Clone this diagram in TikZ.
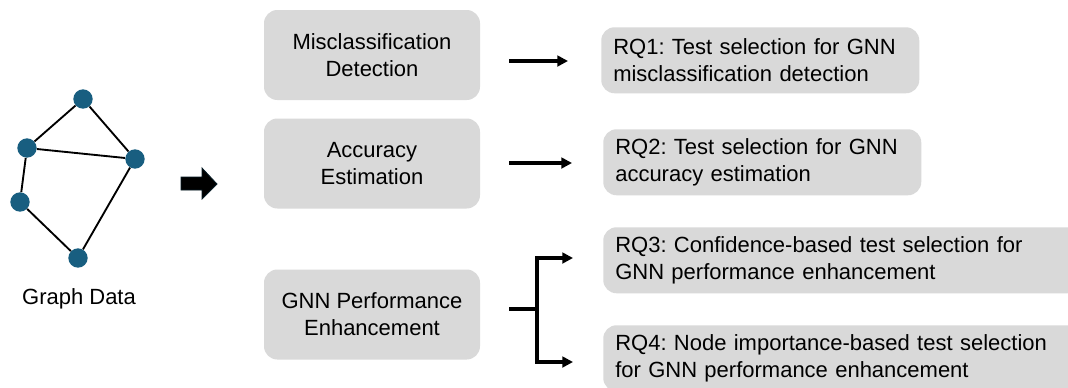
\documentclass[tikz,border=0pt]{standalone}
\usepackage{fontspec}
\setmainfont{Liberation Sans}
\frenchspacing
\usetikzlibrary{arrows.meta}
\definecolor{boxgray}{HTML}{D9D9D9}
\definecolor{gnode}{RGB}{24,94,128}
\begin{document}
\begin{tikzpicture}[x=0.75pt,y=-0.75pt,
  every node/.style={font=\fontsize{16.5}{20.25}\selectfont},
  leftbox/.style={rounded corners=10pt, fill=boxgray, minimum width=162pt, minimum height=67.5pt, align=center, inner sep=0pt},
  rqbox/.style={rounded corners=10pt, fill=boxgray, anchor=north west, minimum height=49.5pt, text width=#1, inner xsep=9pt, inner ysep=0pt, align=left},
  gn/.style={circle, fill=gnode, minimum size=14.5pt, inner sep=0pt},
  gedge/.style={line width=1.4pt, black},
  arr/.style={line width=2.4pt, -{Triangle[length=8pt,width=8pt]}},
  barr/.style={line width=2.6pt, {Triangle[length=8pt,width=8pt]}-{Triangle[length=8pt,width=8pt]}},
]
\clip (0,0) rectangle (1068,387);
\fill[white] (0,0) rectangle (1068,387);
% graph
\node[gn] (v1) at (83,99) {};
\node[gn] (v2) at (27,148) {};
\node[gn] (v3) at (135,159) {};
\node[gn] (v4) at (20,202) {};
\node[gn] (v5) at (78,258) {};
\draw[gedge] (v1) -- (v2);
\draw[gedge] (v1) -- (v3);
\draw[gedge] (v2) -- (v3);
\draw[gedge] (v2) -- (v4);
\draw[gedge] (v4) -- (v5);
\draw[gedge] (v5) -- (v3);
\node (gd) at (79,299) {Graph Data};
% block arrow
\filldraw[fill=black, draw=black!70!gnode, line width=0.6pt]
  (181,177) -- (202,177) -- (202,168) -- (217,184) -- (202,199) -- (202,190) -- (181,190) -- cycle;
% left boxes
\node[leftbox] (m1) at (372,55) {Misclassification\\Detection};
\node[leftbox] (m2) at (372,163.5) {Accuracy\\Estimation};
\node[leftbox] (m3) at (372,314.5) {GNN Performance\\Enhancement};
% RQ boxes
\node[rqbox=220.5pt] (r1) at (601,27) {RQ1: Test selection for GNN\\misclassification detection};
\node[rqbox=220.5pt] (r2) at (603,129) {RQ2: Test selection for GNN\\accuracy estimation};
\node[rqbox=340pt] (r3) at (603,227) {RQ3: Confidence-based test selection for\\GNN performance enhancement};
\node[rqbox=340pt] (r4) at (603,325) {RQ4: Node importance-based test selection\\for GNN performance enhancement};
% arrows
\draw[arr, shorten <=21.75pt, shorten >=24.75pt] (m1.east |- 0,61) -- (r1.west |- 0,61);
\draw[arr, shorten <=21.75pt, shorten >=23.25pt] (m2.east |- 0,163) -- (r2.west |- 0,163);
% fork
\coordinate (fork) at (537,309);
\coordinate (ftop) at (537,258);
\coordinate (fbot) at (537,362);
\coordinate (a3) at (573,258);
\coordinate (a4) at (573,362);
\draw[line width=2.6pt, shorten <=21.75pt] (m3.east |- fork) -- (fork);
\draw[barr, line join=miter] (a3) -- (ftop) -- (fbot) -- (a4);
\end{tikzpicture}
\end{document}
